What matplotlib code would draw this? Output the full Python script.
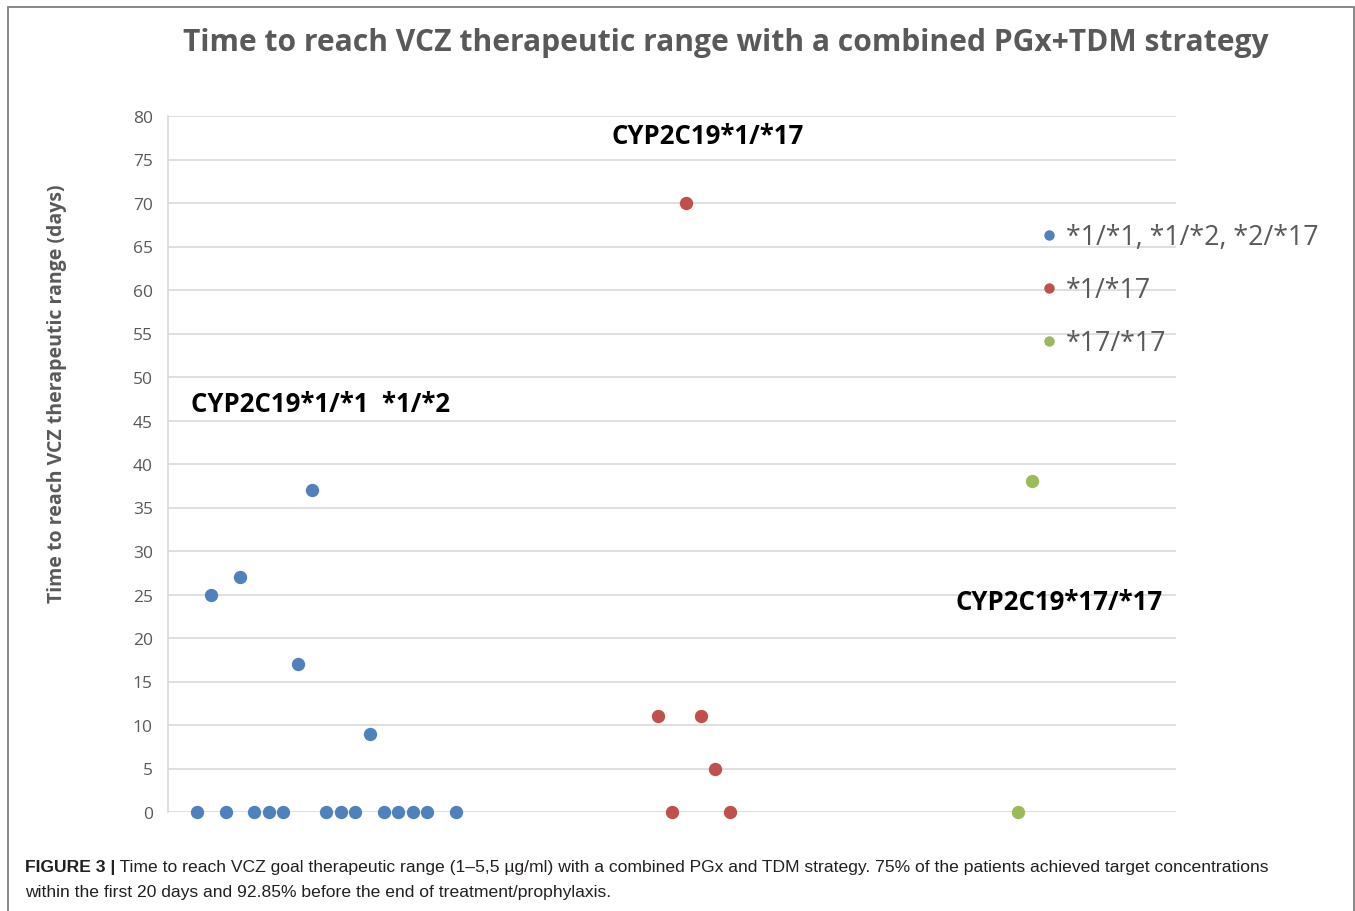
import matplotlib
matplotlib.use("Agg")
import matplotlib.pyplot as plt
from matplotlib.patches import Rectangle
from matplotlib.lines import Line2D

# Data
blue_x = [2, 3, 4, 5, 6, 7, 8, 9, 10, 11, 12, 13, 14, 15, 16, 17, 18, 20]
blue_y = [0, 25, 0, 27, 0, 0, 0, 17, 37, 0, 0, 0, 9, 0, 0, 0, 0, 0]
red_x = [34, 35, 36, 37, 38, 39]
red_y = [11, 0, 70, 11, 5, 0]
green_x = [59, 60]
green_y = [0, 38]
series_labels = ["*1/*1, *1/*2, *2/*17", "*1/*17", "*17/*17"]
yticks = list(range(0, 81, 5))

title = "Time to reach VCZ therapeutic range with a combined PGx+TDM strategy"
ylabel = "Time to reach VCZ therapeutic range (days)"
caption_bold = "FIGURE 3 |"
caption_line1 = " Time to reach VCZ goal therapeutic range (1\u20135,5 \u00b5g/ml) with a combined PGx and TDM strategy. 75% of the patients achieved target concentrations"
caption_line2 = "within the first 20 days and 92.85% before the end of treatment/prophylaxis."

BLUE = "#4F81BD"
RED = "#C0504D"
GREEN = "#9BBB59"
GRAY = "#595959"
GRID = "#D9D9D9"

W, H = 1355, 912
fig = plt.figure(figsize=(W / 100, H / 100), dpi=100)
fig.patch.set_facecolor("white")

ax = fig.add_axes([168 / W, 1 - 813 / H, (1176 - 168) / W, (813 - 117) / H])
ax.set_xlim(0, 70)
ax.set_ylim(0, 80)
ax.set_yticks(yticks)
ax.set_xticks([])
ax.grid(axis="y", color=GRID, linewidth=1.2, zorder=0)
for s in ["top", "right", "bottom"]:
    ax.spines[s].set_visible(False)
ax.spines["left"].set_color(GRID)
ax.spines["left"].set_linewidth(1.2)
ax.tick_params(axis="y", length=0, pad=11, labelsize=12.5, labelcolor=GRAY)
for lab in ax.get_yticklabels():
    lab.set_fontfamily("Open Sans")

ms = 92
ax.scatter(blue_x, blue_y, s=ms, color=BLUE, zorder=3, clip_on=False, linewidths=0)
ax.scatter(red_x, red_y, s=ms, color=RED, zorder=3, clip_on=False, linewidths=0)
ax.scatter(green_x, green_y, s=ms, color=GREEN, zorder=3, clip_on=False, linewidths=0)

fig.text(57 / W, 1 - 394 / H, ylabel, rotation=90, ha="center", va="center",
         fontsize=14, fontweight="bold", color=GRAY, family="Open Sans")

# annotations inside plot
ann_kw = dict(fontsize=18.5, fontweight="bold", family="Open Sans", color="black", va="center")
fig.text(708 / W, 1 - 137 / H, "CYP2C19*1/*17", ha="center", **ann_kw)
fig.text(191 / W, 1 - 405 / H, "CYP2C19*1/*1  *1/*2", ha="left", **ann_kw)
fig.text(1163 / W, 1 - 602 / H, "CYP2C19*17/*17", ha="right", **ann_kw)

# legend
handles = [Line2D([], [], marker="o", linestyle="none", markersize=7.5, color=c, markeredgewidth=0)
           for c in (BLUE, RED, GREEN)]
leg = fig.legend(handles, series_labels, loc="upper left",
                 bbox_to_anchor=(1011 / W, 1 - 200 / H), frameon=False,
                 prop={"family": "Open Sans", "size": 19.3}, labelcolor=GRAY,
                 handlelength=1.0, handletextpad=0.16, labelspacing=0.93)

# title
fig.text(726 / W, 1 - 43 / H, title, ha="center", va="center", fontsize=21.6,
         fontweight="bold", color=GRAY, family="Open Sans")

# caption
cap_kw = dict(fontsize=12.6, family="Liberation Sans", color="#231F20")
t1 = fig.text(25 / W, 1 - 868 / H, caption_bold, ha="left", va="center",
              fontweight="bold", **cap_kw)
ax.annotate(caption_line1, xy=(1, 0.5), xycoords=t1, ha="left", va="center", **cap_kw)
fig.text(25 / W, 1 - 893 / H, caption_line2, ha="left", va="center", **cap_kw)

# outer frame
fig.patches.append(Rectangle((8 / W, -0.05), (1354 - 8) / W, 1.05 - 8 / H,
                             transform=fig.transFigure, fill=False,
                             edgecolor="#7F7F7F", linewidth=1.3))

fig.savefig("out.png", dpi=100)
